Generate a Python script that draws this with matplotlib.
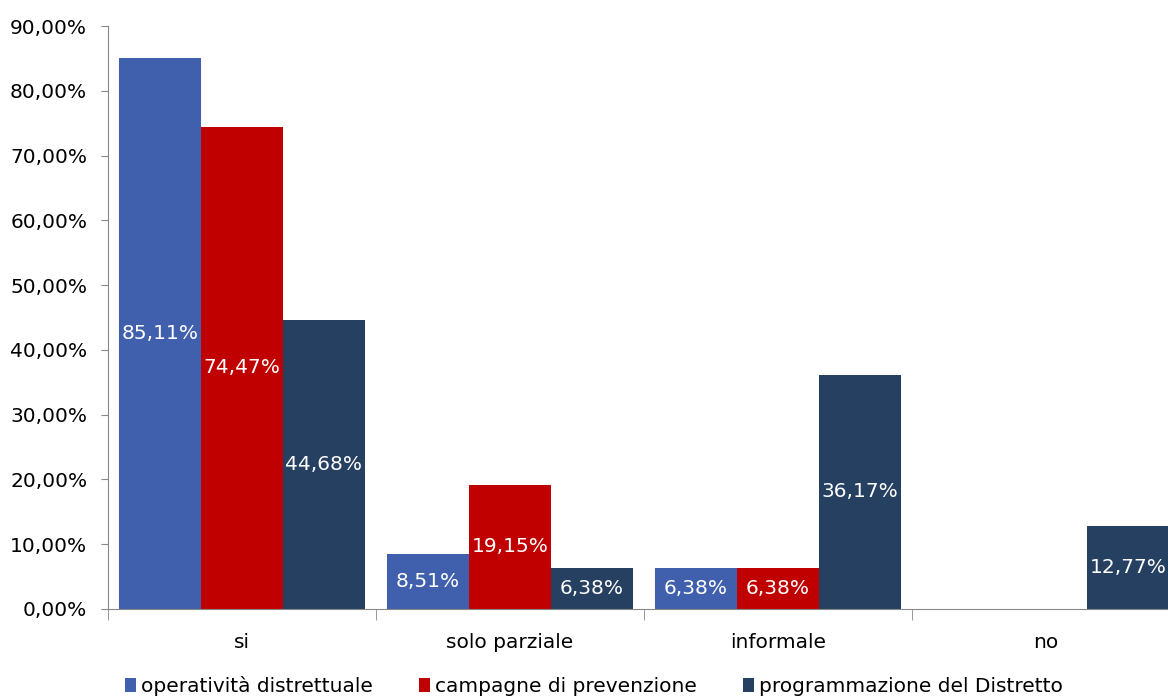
import numpy as np
import matplotlib
matplotlib.use("Agg")
import matplotlib.pyplot as plt
from matplotlib.ticker import FuncFormatter, FixedLocator

categories = ["si", "solo parziale", "informale", "no"]
series_names = ["operatività distrettuale", "campagne di prevenzione", "programmazione del Distretto"]
operativita = [85.11, 8.51, 6.38, 0.0]
campagne = [74.47, 19.15, 6.38, 0.0]
programmazione = [44.68, 6.38, 36.17, 12.77]
colors = ["#4060AE", "#C00000", "#264061"]

plt.rcParams['font.family'] = ['DejaVu Sans']
FS = 14.5

W, H = 1168, 697
fig = plt.figure(figsize=(W / 100, H / 100), dpi=100)
# axes in pixel terms: x 108..1180 (runs past the right edge), y 26..609
ax = fig.add_axes([108 / W, (H - 609) / H, (1180 - 108) / W, (609 - 26) / H])

x = np.arange(len(categories))
bw = 82 / 268
all_series = [operativita, campagne, programmazione]
for i, (vals, col, name) in enumerate(zip(all_series, colors, series_names)):
    pos = x + (i - 1) * bw
    bars = ax.bar(pos, vals, width=bw, color=col, label=name, zorder=2)
    for b, v in zip(bars, vals):
        if v > 0:
            ax.text(b.get_x() + b.get_width() / 2, v / 2,
                    f"{v:.2f}%".replace(".", ","), ha="center", va="center",
                    color="white", fontsize=FS)

ax.set_xlim(-0.5, 3.5)
ax.set_ylim(0, 90)
ax.set_yticks(np.arange(0, 91, 10))
ax.yaxis.set_major_formatter(FuncFormatter(lambda v, p: f"{v:.2f}%".replace(".", ",")))
ax.tick_params(axis="y", labelsize=FS, length=5, color="#888888", pad=10)

ax.set_xticks(x)
ax.set_xticklabels(categories, fontsize=FS)
ax.tick_params(axis="x", which="major", length=0, pad=17)
ax.xaxis.set_minor_locator(FixedLocator(np.arange(-0.5, 4.0, 1.0)))
ax.tick_params(axis="x", which="minor", length=8, color="#888888")

for s in ["top", "right"]:
    ax.spines[s].set_visible(False)
for s in ["left", "bottom"]:
    ax.spines[s].set_color("#888888")

fig.legend(loc="center", bbox_to_anchor=(594 / W, 1 - 686 / H), ncol=3,
           frameon=False, fontsize=FS, handlelength=0.55, handleheight=0.7,
           handletextpad=0.25, columnspacing=2.3)

fig.savefig("out.png", dpi=100)
